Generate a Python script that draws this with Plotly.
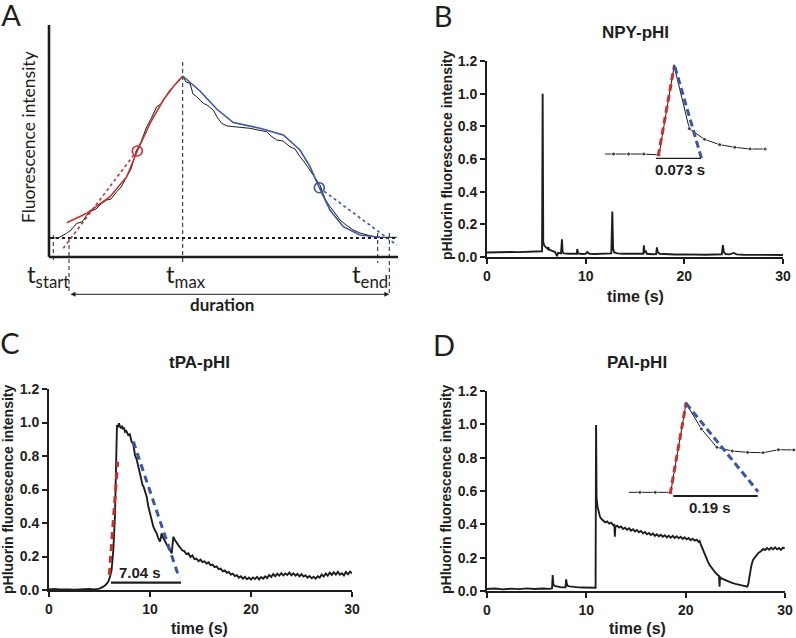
import plotly.graph_objects as go

W, H = 796, 638

# ---------------- Panel A (schematic, arbitrary units) ----------------
a_trace_x = [2.7, 10, 17.7, 22, 27.7, 33, 38, 41, 47, 52, 57.7, 62, 67.7, 72, 77.7, 82, 87.7, 92, 97.7, 102,
             107.7, 112, 117.7, 121, 124.3, 129, 133.7, 137, 141, 144, 147.7, 151, 154.3, 158, 164.3, 168,
             172.7, 178, 184.3, 192, 201, 209, 217.7, 222, 227.7, 234, 241, 246, 251, 256, 261, 266, 271,
             276, 281, 286, 291, 297, 304.3, 311, 317.7, 324, 331, 340, 347.7]
a_trace_y = [18.7, 19.5, 23.7, 27, 33.7, 35, 42, 45.3, 48, 53, 57, 58, 65.3, 70, 80.3, 88, 107, 115, 130.3, 138,
             150.3, 153, 162, 167, 170.3, 175, 181, 175, 173.7, 163, 160.3, 157, 153.7, 152, 147, 140,
             133.7, 131, 130.3, 129, 128.7, 127, 125.3, 121, 117, 116, 110.3, 108, 100.3, 94, 87, 80, 72,
             58, 50.3, 44, 37, 32, 27, 24, 22, 20.5, 19.7, 19.5, 19.7]
a_rise_fit_x = [17.7, 37.7, 61, 77.7, 88.3, 101, 114.3, 124, 133.7]
a_rise_fit_y = [34.3, 43.7, 60.3, 80.3, 106, 133.7, 157, 170, 181]
a_decay_fit_x = [133.7, 151, 167.7, 184.3, 211, 234.3, 251, 261, 270.3, 281, 294.3, 311, 331]
a_decay_fit_y = [181, 166, 148, 134.5, 128.7, 122, 107, 90.3, 69.3, 47, 30.3, 22, 19.7]
a_rise_tangent_x = [14.3, 91]
a_rise_tangent_y = [8.7, 110.3]
a_decay_tangent_x = [270.3, 347.7]
a_decay_tangent_y = [69.3, 12]
a_inflect_x = [88.3, 270.3]
a_inflect_y = [106, 69.3]
a_baseline = 19
a_t_start, a_t_on, a_t_max, a_t_end, a_t_off = 4.3, 20, 133.7, 328.7, 340.3
a_axis_len_x, a_axis_len_y = 349, 232

# ---------------- Panel B: NPY-pHl ----------------
npy_trace = [(0, 0.028), (0.8, 0.03), (1.6, 0.029), (2.4, 0.031), (3.2, 0.03), (4.0, 0.032), (4.8, 0.031),
             (5.4, 0.033), (5.58, 0.035), (5.64, 1.0), (5.7, 0.09), (5.8, 0.07), (6.0, 0.06), (6.15, 0.05),
             (6.2, 0.06), (6.3, 0.045), (6.6, 0.038), (6.9, 0.03), (7.1, 0.005), (7.2, 0.025), (7.5, 0.022),
             (7.6, 0.108), (7.66, 0.03), (7.8, 0.022), (8.3, 0.02), (8.8, 0.018), (9.1, 0.02), (9.15, 0.049),
             (9.22, 0.022), (9.6, 0.018), (10.0, 0.02), (10.16, 0.03), (10.4, 0.02), (11.0, 0.018),
             (11.6, 0.02), (12.2, 0.019), (12.6, 0.022), (12.7, 0.278), (12.78, 0.05), (12.9, 0.028),
             (13.2, 0.022), (13.8, 0.02), (14.4, 0.019), (15.0, 0.018), (15.6, 0.017), (15.85, 0.02),
             (15.9, 0.072), (15.96, 0.03), (16.1, 0.035), (16.2, 0.02), (16.8, 0.017), (17.15, 0.018),
             (17.22, 0.059), (17.3, 0.03), (17.5, 0.02), (18.2, 0.016), (19.0, 0.015), (19.8, 0.016),
             (20.6, 0.014), (21.4, 0.015), (22.2, 0.014), (23.0, 0.015), (23.8, 0.016), (23.91, 0.073),
             (24.0, 0.03), (24.2, 0.018), (24.6, 0.016), (25.0, 0.025), (25.3, 0.016), (26.0, 0.014),
             (27.0, 0.013), (28.0, 0.014), (29.0, 0.012), (30.0, 0.012)]
npy_inset_frame = [-3.56, -3, -2, -1, 0, 1, 2, 3, 4, 5, 6, 7]
npy_inset_value = [0, 0, 0, 0, -0.01, 1.0, 0.288, 0.167, 0.106, 0.076, 0.057, 0.057]
npy_rise_line = ([-0.05, 0.99], [-0.023, 0.985])
npy_decay_line = ([1.05, 2.8], [0.99, -0.049])
npy_bar = ([-0.2, 2.77], [-0.049, -0.049])
npy_label = "0.073 s"

# ---------------- Panel C: tPA-pHl ----------------
tpa_trace = [(0, 0.004), (0.5, 0.006), (1.0, 0.003), (1.5, 0.005), (2.0, 0.004), (2.5, 0.002), (3.0, 0.005),
             (3.5, 0.004), (4.0, 0.007), (4.5, 0.004), (5.0, 0.008), (5.38, 0.02), (5.6, 0.03), (5.87, 0.05),
             (6.05, 0.08), (6.2, 0.12), (6.37, 0.24), (6.53, 0.44), (6.63, 0.70), (6.73, 0.985), (6.8, 0.97),
             (6.93, 0.995), (7.03, 0.975), (7.13, 0.965), (7.23, 0.98), (7.33, 0.96), (7.43, 0.97),
             (7.52, 0.945), (7.65, 0.95), (7.85, 0.925), (8.0, 0.93), (8.18, 0.885), (8.35, 0.87),
             (8.51, 0.806), (8.68, 0.78), (8.84, 0.736), (9.0, 0.70), (9.17, 0.637), (9.27, 0.625),
             (9.37, 0.617), (9.52, 0.59), (9.67, 0.557), (9.83, 0.50), (10.0, 0.458), (10.17, 0.42),
             (10.33, 0.378), (10.5, 0.355), (10.66, 0.338), (10.82, 0.31), (10.99, 0.289), (11.07, 0.31),
             (11.15, 0.338), (11.27, 0.315), (11.39, 0.299), (11.52, 0.285), (11.65, 0.269), (11.8, 0.255),
             (11.98, 0.239), (12.07, 0.23), (12.15, 0.219), (12.22, 0.26), (12.31, 0.318), (12.45, 0.30),
             (12.64, 0.279), (12.8, 0.268), (13.0, 0.252), (13.2, 0.236), (13.4, 0.232), (13.6, 0.214),
             (13.8, 0.219), (14.0, 0.197), (14.2, 0.206), (14.4, 0.184), (14.6, 0.187), (14.8, 0.172),
             (15.0, 0.181), (15.2, 0.166), (15.4, 0.171), (15.6, 0.158), (15.8, 0.165), (16.0, 0.148),
             (16.2, 0.152), (16.4, 0.137), (16.6, 0.141), (16.8, 0.124), (17.0, 0.128), (17.2, 0.112),
             (17.4, 0.117), (17.6, 0.102), (17.8, 0.108), (18.0, 0.092), (18.2, 0.097), (18.4, 0.083),
             (18.6, 0.089), (18.8, 0.074), (19.0, 0.082), (19.2, 0.068), (19.4, 0.078), (19.6, 0.064),
             (19.8, 0.074), (20.0, 0.062), (20.2, 0.075), (20.4, 0.066), (20.6, 0.078), (20.8, 0.063),
             (21.0, 0.077), (21.2, 0.068), (21.4, 0.082), (21.6, 0.071), (21.8, 0.09), (22.0, 0.078),
             (22.2, 0.095), (22.4, 0.082), (22.6, 0.097), (22.8, 0.086), (23.0, 0.1), (23.2, 0.087),
             (23.4, 0.099), (23.6, 0.09), (23.8, 0.104), (24.0, 0.088), (24.2, 0.099), (24.4, 0.086),
             (24.6, 0.096), (24.8, 0.082), (25.0, 0.094), (25.2, 0.08), (25.4, 0.088), (25.6, 0.074),
             (25.8, 0.083), (26.0, 0.07), (26.2, 0.079), (26.4, 0.068), (26.6, 0.082), (26.8, 0.074),
             (27.0, 0.092), (27.2, 0.08), (27.4, 0.098), (27.6, 0.085), (27.8, 0.104), (28.0, 0.09),
             (28.2, 0.106), (28.4, 0.092), (28.6, 0.108), (28.8, 0.091), (29.0, 0.1), (29.2, 0.087),
             (29.4, 0.108), (29.6, 0.094), (29.8, 0.11), (30.0, 0.1)]
tpa_rise_line = ([5.97, 6.8], [0.09, 0.766])
tpa_decay_line = ([8.35, 12.9], [0.886, 0.07])
tpa_bar = ([6.14, 13.07], [0.044, 0.044])
tpa_label = "7.04 s"

# ---------------- Panel D: PAI-pHl ----------------
pai_trace = [(0, 0.012), (0.8, 0.015), (1.6, 0.01), (2.4, 0.014), (3.2, 0.011), (4.0, 0.016), (4.8, 0.012),
             (5.6, 0.015), (6.3, 0.013), (6.55, 0.016), (6.61, 0.096), (6.68, 0.04), (6.8, 0.03), (7.1, 0.026),
             (7.5, 0.022), (7.9, 0.022), (7.97, 0.07), (8.02, 0.05), (8.1, 0.032), (8.3, 0.028), (8.7, 0.024),
             (9.2, 0.022), (9.7, 0.021), (10.2, 0.02), (10.6, 0.021), (10.93, 0.02), (10.98, 0.996),
             (11.03, 0.56), (11.13, 0.506), (11.25, 0.47), (11.37, 0.446), (11.55, 0.43), (11.7, 0.42),
             (11.9, 0.412), (12.1, 0.418), (12.3, 0.404), (12.5, 0.41), (12.7, 0.395), (12.82, 0.4),
             (12.87, 0.326), (12.92, 0.385), (13.1, 0.392), (13.3, 0.38), (13.5, 0.387), (13.7, 0.372),
             (13.9, 0.38), (14.1, 0.368), (14.3, 0.376), (14.5, 0.362), (14.7, 0.37), (14.9, 0.357),
             (15.1, 0.366), (15.3, 0.352), (15.5, 0.36), (15.7, 0.346), (15.9, 0.354), (16.1, 0.34),
             (16.3, 0.348), (16.5, 0.336), (16.7, 0.345), (16.9, 0.331), (17.1, 0.34), (17.3, 0.328),
             (17.5, 0.337), (17.7, 0.326), (17.9, 0.335), (18.1, 0.322), (18.3, 0.332), (18.5, 0.32),
             (18.7, 0.331), (18.9, 0.318), (19.1, 0.328), (19.3, 0.316), (19.5, 0.325), (19.7, 0.312),
             (19.9, 0.322), (20.1, 0.31), (20.3, 0.318), (20.5, 0.305), (20.7, 0.314), (20.9, 0.302),
             (21.1, 0.308), (21.3, 0.296), (21.4, 0.3), (21.55, 0.275), (21.74, 0.246), (21.9, 0.22),
             (22.07, 0.196), (22.25, 0.175), (22.41, 0.156), (22.65, 0.135), (22.91, 0.116), (23.15, 0.1),
             (23.36, 0.09), (23.41, 0.026), (23.46, 0.085), (23.6, 0.075), (23.92, 0.066), (24.25, 0.058),
             (24.6, 0.05), (25.0, 0.043), (25.44, 0.036), (25.8, 0.031), (26.2, 0.026), (26.3, 0.04),
             (26.45, 0.106), (26.6, 0.15), (26.78, 0.186), (27.0, 0.205), (27.28, 0.226), (27.6, 0.24),
             (27.8, 0.252), (28.0, 0.246), (28.2, 0.258), (28.4, 0.248), (28.6, 0.26), (28.8, 0.25),
             (29.0, 0.262), (29.2, 0.25), (29.4, 0.258), (29.6, 0.247), (29.8, 0.26), (29.97, 0.255)]
pai_inset_frame = [-2.71, -2, -1, 0, 1, 2, 3, 4, 5, 6, 7, 8, 8.1]
pai_inset_value = [0, 0, 0, 0, 1.0, 0.711, 0.506, 0.464, 0.449, 0.445, 0.479, 0.476, 0.476]
pai_rise_line = ([-0.03, 1.0], [-0.02, 1.0])
pai_decay_line = ([1.0, 5.68], [1.0, 0.007])
pai_bar = ([0.17, 5.65], [-0.042, -0.042])
pai_label = "0.19 s"

x_ticks = [0, 10, 20, 30]
y_ticks = [0.0, 0.2, 0.4, 0.6, 0.8, 1.0, 1.2]
titles = ["NPY-pHI", "tPA-pHI", "PAI-pHI"]
y_title = "pHluorin fluorescence intensity"
x_title = "time (s)"
letters = ["A", "B", "C", "D"]

# ---------------- styling ----------------
INK = "#1e1e1e"
RED = "#c9302c"
BLUE = "#3b55a5"
ARIAL = "Liberation Sans"
CAL = "Lato"


def px_x(p):
    return p / W


def px_y(p):
    return 1 - p / H


fig = go.Figure()


def line(x, y, ax, color=INK, width=1.0, dash="solid", mode="lines", marker=None):
    kw = dict(x=x, y=y, mode=mode, line=dict(color=color, width=width, dash=dash),
              xaxis=ax[0], yaxis=ax[1], showlegend=False, hoverinfo="skip")
    if marker is not None:
        kw["marker"] = marker
    fig.add_trace(go.Scatter(**kw))


A = ("x", "y")
B = ("x2", "y2")
C = ("x3", "y3")
D = ("x4", "y4")
BI = ("x5", "y5")
DI = ("x6", "y6")
P = ("x7", "y7")

# Panel A drawing
line([0, 0], [0, a_axis_len_y], A, width=2.6)
line([0, a_axis_len_x], [0, 0], A, width=2.6)
line([1, a_axis_len_x], [a_baseline, a_baseline], A, width=2.2, dash="dot")
for xv, y0, y1 in [(a_t_start, 22, -6), (a_t_on, a_baseline, -35), (a_t_max, 195, -8),
                   (a_t_end, 24, -6), (a_t_off, 24, -36)]:
    line([xv, xv], [y0, y1], A, width=1.0, dash="4px,3px")
line(a_rise_tangent_x, a_rise_tangent_y, A, color=RED, width=1.6, dash="dot")
line(a_decay_tangent_x, a_decay_tangent_y, A, color=BLUE, width=1.6, dash="dot")
line(a_trace_x, a_trace_y, A, width=1.0)
line(a_rise_fit_x, a_rise_fit_y, A, color=RED, width=1.6)
line(a_decay_fit_x, a_decay_fit_y, A, color=BLUE, width=1.6)
for (cx, cy, col) in [(a_inflect_x[0], a_inflect_y[0], RED), (a_inflect_x[1], a_inflect_y[1], BLUE)]:
    fig.add_trace(go.Scatter(x=[cx], y=[cy], mode="markers", xaxis="x", yaxis="y",
                             marker=dict(symbol="circle-open", size=10, color=col, line=dict(width=1.6, color=col)),
                             showlegend=False, hoverinfo="skip"))

# Main traces
for pts, ax in [(npy_trace, B), (tpa_trace, C), (pai_trace, D)]:
    line([p[0] for p in pts], [p[1] for p in pts], ax, width=1.9)

# C fits
line(*tpa_rise_line, C, color=RED, width=3, dash="7px,5px")
line(*tpa_decay_line, C, color=BLUE, width=3, dash="7px,5px")
line(*tpa_bar, C, width=2.4)

# Insets
line(npy_inset_frame, npy_inset_value, BI, width=1.0, mode="lines+markers",
     marker=dict(size=[0] + [4] * (len(npy_inset_frame) - 1), color=INK))
line(*npy_rise_line, BI, color=RED, width=3, dash="7px,4px")
line(*npy_decay_line, BI, color=BLUE, width=3, dash="7px,4px")
line(*npy_bar, BI, width=1.2)
line(pai_inset_frame, pai_inset_value, DI, width=1.0, mode="lines+markers",
     marker=dict(size=[0] + [4] * (len(pai_inset_frame) - 2) + [0], color=INK))
line(*pai_rise_line, DI, color=RED, width=3, dash="7px,4px")
line(*pai_decay_line, DI, color=BLUE, width=3, dash="7px,4px")
line(*pai_bar, DI, width=2)

# Panel letters as text on a full-page pixel axis
fig.add_trace(go.Scatter(x=[11, 443, 10, 444], y=[19, 20, 347, 349], mode="text", text=letters,
                         textposition="middle center", cliponaxis=False,
                         textfont=dict(family=CAL, size=29, color=INK),
                         xaxis=P[0], yaxis=P[1], showlegend=False, hoverinfo="skip"))

# ---------------- axes ----------------
hidden = dict(visible=False, showgrid=False, zeroline=False, fixedrange=True)
tickfont = dict(family=ARIAL, size=14, color=INK, weight="bold")


def main_x(dom, anchor):
    return dict(domain=dom, range=[0, 30], anchor=anchor, showline=True, linewidth=2, linecolor=INK,
                ticks="outside", ticklen=5, tickwidth=2, tickcolor=INK, tickvals=x_ticks,
                tickfont=tickfont, showgrid=False, zeroline=False)


def main_y(dom, anchor):
    return dict(domain=dom, range=[0, 1.2], anchor=anchor, showline=True, linewidth=2, linecolor=INK,
                ticks="outside", ticklen=5, tickwidth=2, tickcolor=INK, tickvals=y_ticks,
                tickformat=".1f", tickfont=tickfont, showgrid=False, zeroline=False)


fig.update_layout(
    width=W, height=H, margin=dict(l=0, r=0, t=0, b=0, autoexpand=False),
    paper_bgcolor="white", plot_bgcolor="rgba(0,0,0,0)",
    font=dict(family=ARIAL, color=INK),
    xaxis=dict(domain=[px_x(20), px_x(400)], range=[-29, 351], anchor="y", **hidden),
    yaxis=dict(domain=[px_y(310), px_y(20)], range=[-53, 237], anchor="x", **hidden),
    xaxis2=main_x([px_x(487), px_x(783)], "y2"),
    yaxis2=main_y([px_y(257), px_y(61)], "x2"),
    xaxis3=main_x([px_x(49), px_x(352)], "y3"),
    yaxis3=main_y([px_y(590), px_y(389)], "x3"),
    xaxis4=main_x([px_x(487), px_x(785)], "y4"),
    yaxis4=main_y([px_y(591), px_y(391)], "x4"),
    xaxis5=dict(domain=[px_x(600), px_x(780)], range=[-3.889, 7.976], anchor="y5", **hidden),
    yaxis5=dict(domain=[px_y(180), px_y(55)], range=[-0.295, 1.125], anchor="x5", **hidden),
    xaxis6=dict(domain=[px_x(620), px_x(796)], range=[-3.29, 8.14], anchor="y6", **hidden),
    yaxis6=dict(domain=[px_y(520), px_y(390)], range=[-0.311, 1.15], anchor="x6", **hidden),
    xaxis7=dict(domain=[0, 1], range=[0, W], anchor="y7", **hidden),
    yaxis7=dict(domain=[0, 1], range=[H, 0], anchor="x7", **hidden),
)

ann = []


def note(text, x, y, size, family=ARIAL, bold=False, angle=0, xref="paper", yref="paper",
         xanchor="center", yanchor="middle"):
    ann.append(dict(text=text, x=x, y=y, xref=xref, yref=yref, showarrow=False, textangle=angle,
                    xanchor=xanchor, yanchor=yanchor,
                    font=dict(family=family, size=size, color=INK, weight="bold" if bold else "normal")))


# panel A labels
note("Fluorescence intensity", -20, 120, 17.5, family=CAL, angle=-90, xref="x", yref="y")
note("t<sub>start</sub>", -1.5, -19, 24, family=CAL, xref="x", yref="y")
note("t<sub>max</sub>", 137, -19, 24, family=CAL, xref="x", yref="y")
note("t<sub>end</sub>", 321, -19, 24, family=CAL, xref="x", yref="y")
note("duration", 173, -48, 17, family=CAL, bold=True, xref="x", yref="y")
ann.append(dict(x=a_t_off, y=-37.3, ax=a_t_on, ay=-37.3, xref="x", yref="y", axref="x", ayref="y",
                text="", showarrow=True, arrowhead=2, arrowside="end+start", arrowsize=1,
                arrowwidth=1, arrowcolor=INK))

# titles
for t, (tx, ty) in zip(titles, [(635, 32), (200, 362), (637, 362)]):
    note(t, px_x(tx), px_y(ty), 17, bold=True)
# axis titles
for (yx, yy) in [(447, 156), (8, 490), (446, 490)]:
    note(y_title, px_x(yx), px_y(yy), 14, bold=True, angle=-90)
for (xx, xy) in [(635, 297), (200, 628), (637, 628)]:
    note(x_title, px_x(xx), px_y(xy), 16, bold=True)

# inset / fit labels
note(npy_label, 1.38, -0.174, 15, bold=True, xref="x5", yref="y5")
note(tpa_label, 9.0, 0.103, 15, bold=True, xref="x3", yref="y3")
note(pai_label, 2.55, -0.169, 15, bold=True, xref="x6", yref="y6")

fig.update_layout(annotations=ann)
fig.write_html("out.html", config={"displayModeBar": False},
               post_script="document.body.style.margin='0';document.body.style.overflow='hidden';")
